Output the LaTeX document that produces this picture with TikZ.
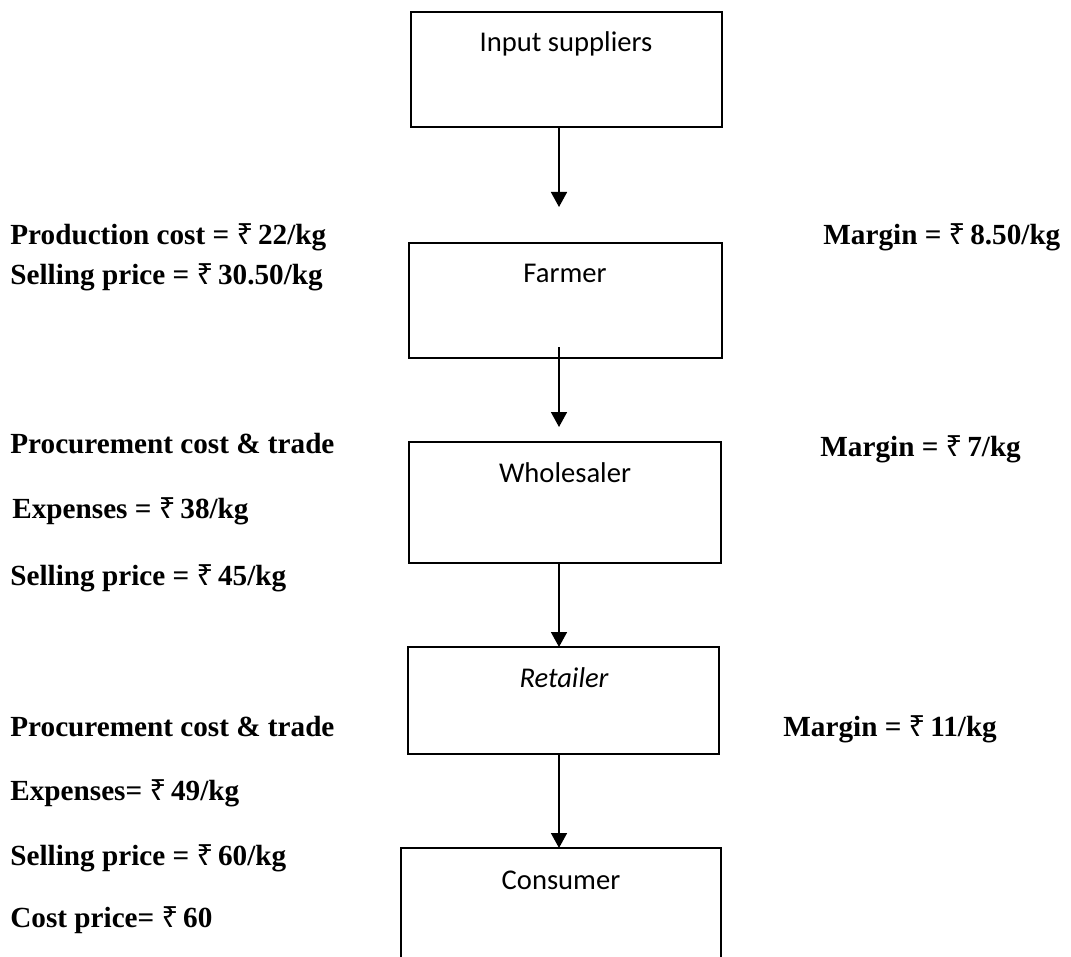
\documentclass[tikz,border=0pt]{standalone}
\usepackage{fontspec}
\setmainfont{Liberation Serif}
\newfontfamily\boxfont{Carlito}
\newfontfamily\rupeefont{Noto Sans}
\usetikzlibrary{arrows.meta}
\newcommand\rs{{\rupeefont ₹}\,}
\begin{document}
\begin{tikzpicture}[x=0.5pt,y=-0.5pt,
  stage/.style={draw, line width=1pt, inner sep=0pt, outer sep=0pt, anchor=north west},
  stagelabel/.style={anchor=base, font=\boxfont\fontsize{14.3}{17}\selectfont, inner sep=0pt},
  figure/.style={anchor=base west, font=\bfseries\fontsize{14.6}{18}\selectfont, inner sep=0pt},
  flow/.style={line width=0.8pt, -{Triangle[length=7.5pt,width=8pt]}}]
\useasboundingbox (0,0) rectangle (1071,957);
\begin{scope}
\clip (0,0) rectangle (1071,957);

% stages of the supply chain
\node[stage, minimum width=155.5pt, minimum height=57.5pt] (ins)   at (411,12)  {};
\node[stage, minimum width=156.5pt, minimum height=57.5pt] (farm)  at (409,243) {};
\node[stage, minimum width=156pt,   minimum height=60.5pt] (whole) at (409,442) {};
\node[stage, minimum width=155.5pt, minimum height=53.5pt] (ret)   at (408,647) {};
\node[stage, minimum width=160pt,   minimum height=75pt]   (cons)  at (401,848) {};

\node[stagelabel] (insl)   at (566,52)  {Input suppliers};
\node[stagelabel] (farml)  at (565,283) {Farmer};
\node[stagelabel] (wholel) at (565,482) {Wholesaler};
\node[stagelabel, font=\boxfont\itshape\fontsize{14.3}{17}\selectfont] (retl) at (564,687) {Retailer};
\node[stagelabel] (consl)  at (561,889) {Consumer};

% flow of produce
\coordinate (axis)   at (559,0);
\coordinate (tipA)   at (559,207);
\coordinate (startB) at (559,347);
\coordinate (tipB)   at (559,427);
\draw[flow] (ins.south -| axis) -- (tipA);
\draw[flow] (startB) -- (tipB);
\draw[flow] (whole.south -| axis) -- (ret.north -| axis);
\draw[flow] (ret.south -| axis) -- (cons.north -| axis);

% costs and prices
\node[figure] (pc)  at (10,245) {Production cost = \rs 22/kg};
\node[figure] (sp1) at (10,285) {Selling price = \rs 30.50/kg};
\node[figure] (pr1) at (10,453) {Procurement cost \& trade};
\node[figure] (ex1) at (12,518) {Expenses = \rs 38/kg};
\node[figure] (sp2) at (10,585) {Selling price = \rs 45/kg};
\node[figure] (pr2) at (10,736) {Procurement cost \& trade};
\node[figure] (ex2) at (10,800) {Expenses= \rs 49/kg};
\node[figure] (sp3) at (10,865) {Selling price = \rs 60/kg};
\node[figure] (cp)  at (10,927) {Cost price= \rs 60};

% margins
\node[figure] (m1) at (823,245) {Margin = \rs 8.50/kg};
\node[figure] (m2) at (820,456) {Margin = \rs 7/kg};
\node[figure] (m3) at (783,736) {Margin = \rs 11/kg};
\end{scope}
\end{tikzpicture}
\end{document}
